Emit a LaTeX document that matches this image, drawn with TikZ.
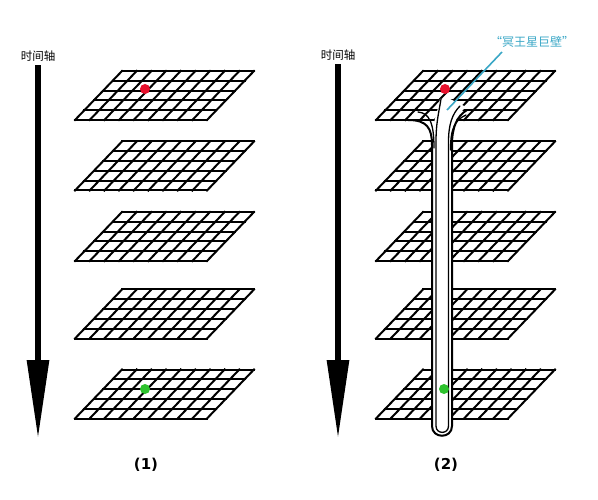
\documentclass[tikz,border=0pt]{standalone}
\usepackage{fontspec}
\setmainfont{Noto Sans}
\newfontfamily\cjk{Noto Sans CJK SC}
\newfontfamily\capfont{DejaVu Sans}
\usepackage{tikz}
\usetikzlibrary{arrows.meta,positioning}
\definecolor{WallCyan}{HTML}{3AA7C6}
\definecolor{DotRed}{HTML}{E8112D}
\definecolor{DotGreen}{HTML}{2DC22D}
% one sheet of the stack, top-left corner at (#1,#2)
\newcommand{\gridsheet}[2]{%
  \foreach \r in {0,...,5}{
    \draw[sheet] (#1-9.4*\r,#2+9.8*\r) -- ++(132,0);
  }
  \foreach \c in {0,...,9}{
    \draw[sheet] (#1+14.667*\c,#2) -- ++(-47,49);
  }
}

\begin{document}
\begin{tikzpicture}[
  x=1pt, y=-1pt,
  every node/.style={inner sep=2pt},
  sheet/.style={line width=2pt, line cap=rect},
  timeaxis/.style={line width=6pt, -{Triangle[width=21pt,length=79pt]}},
  axislabel/.style={font=\cjk\fontsize{11.5}{13}\selectfont},
  panellabel/.style={font=\capfont\bfseries\fontsize{15}{18}\selectfont},
  walltext/.style={font=\cjk\fontsize{12}{14}\selectfont, text=WallCyan},
  leader/.style={draw=WallCyan, line width=1.6pt},
  wall/.style={line width=2pt, line cap=round},
]
  \useasboundingbox (0,0) rectangle (598,500);

  % time axes
  \node[axislabel] (axisA) at (38,56) {时间轴};
  \coordinate (axisAend) at (38,439);
  \draw[timeaxis] ([yshift=-2pt]axisA.south) -- (axisAend);
  \node[axislabel] (axisB) at (338,55) {时间轴};
  \coordinate (axisBend) at (338,439);
  \draw[timeaxis] ([yshift=-2pt]axisB.south) -- (axisBend);

  % stacks of sheets
  \foreach \y in {71,141.5,212,289.5,369.5}{
    \gridsheet{122}{\y}
    \gridsheet{423}{\y}
  }

  % (1)
  \fill[DotRed] (145,89) circle[radius=5];
  \fill[DotGreen] (145,389) circle[radius=5];
  \node[panellabel] (capA) at (146,465) {(1)};

  % (2): the wall through the stack
  \fill[white] (440,99) .. controls (438,112) and (432,122) .. (432,142) -- (432,426)
    .. controls (432,439) and (452,439) .. (452,426) -- (452,142)
    .. controls (452,126) and (456,116) .. (466,107) -- (450,99) -- cycle;
  \draw[wall] (408,120) .. controls (427,120) and (432,128) .. (432,145) -- (432,426)
    .. controls (432,439) and (452,439) .. (452,426) -- (452,145)
    .. controls (452,127) and (457,116) .. (467,110);
  \draw[wall, line width=1.3pt] (441,99) .. controls (439,112) and (436,122) .. (436,142) -- (436,426)
    .. controls (436,434.5) and (448.5,434.5) .. (448.5,426) -- (448.5,142)
    .. controls (448.5,125) and (452,114) .. (460,106);
  \draw[wall, line width=1.3pt] (418,112) .. controls (429,113) and (434,122) .. (434,148);
  \draw[wall, line width=1.3pt] (450.5,150) .. controls (450.5,128) and (455,120) .. (466,115);
  \fill[DotRed] (445,89) circle[radius=5];
  \fill[DotGreen] (444,389) circle[radius=5];
  \node[panellabel] (capB) at (446,465) {(2)};

  \node[walltext] (walllabel) at (532,42) {“冥王星巨壁”};
  \coordinate (labelfoot) at (502,52);
  \coordinate (walltip) at (447,110);
  \draw[leader] (labelfoot) -- (walltip);
\end{tikzpicture}
\end{document}
